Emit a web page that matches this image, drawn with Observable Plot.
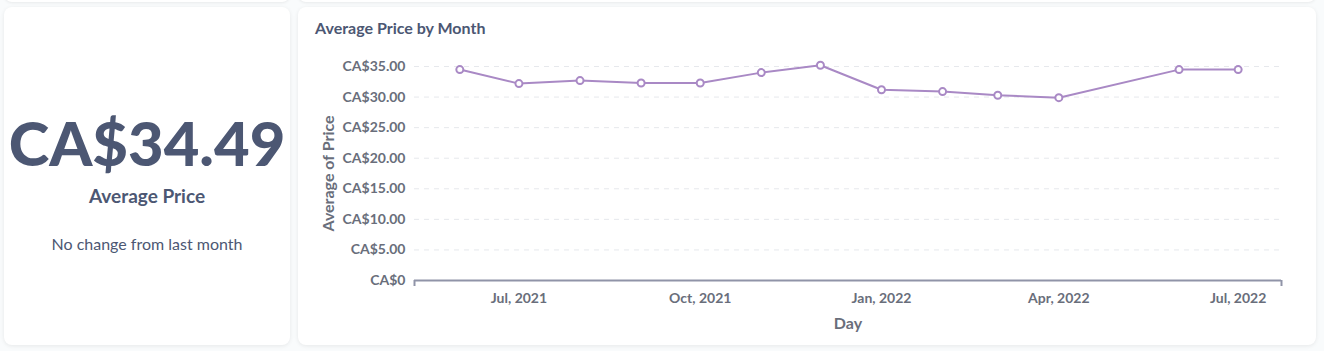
<!DOCTYPE html>
<html>
<head>
<meta charset="utf-8">
<script src="https://cdn.jsdelivr.net/npm/d3@7"></script>
<script src="https://cdn.jsdelivr.net/npm/@observablehq/plot@0.6"></script>
<style>
  html, body { margin: 0; padding: 0; }
  body { width: 1324px; height: 351px; background: #f9fbfc; font-family: Lato, "Noto Sans", sans-serif; position: relative; overflow: hidden; color: #4c5773; }
  .card { position: absolute; background: #fff; border-radius: 8px; box-shadow: 0 1px 4px rgba(0,0,0,0.08); }
  .ghost { position: absolute; background: #fff; border-radius: 8px; box-shadow: 0 1px 3px rgba(0,0,0,0.07); }
  #scalar { left: 4px; top: 7px; width: 286px; height: 338px; }
  #chartcard { left: 298px; top: 7px; width: 1018px; height: 338px; }
  .big { position: absolute; left: 0; width: 286px; top: 105px; text-align: center; font-size: 61.5px; font-weight: 900; line-height: 1; color: #4c5773; }
  .sub { position: absolute; left: 0; width: 286px; top: 177px; text-align: center; font-size: 19px; font-weight: 700; color: #4c5773; }
  .note { position: absolute; left: 0; width: 286px; top: 227px; text-align: center; font-size: 16px; font-weight: 400; color: #4c5773; }
  .title { position: absolute; left: 17px; top: 11px; font-size: 16px; font-weight: 700; color: #4c5773; }
  #plot { position: absolute; left: 0; top: 33px; }
</style>
</head>
<body>
<div class="ghost" style="left:4px; top:-20px; width:286px; height:22px;"></div>
<div class="ghost" style="left:298px; top:-20px; width:1018px; height:22px;"></div>
<div class="card" id="scalar">
  <div class="big" id="bigval"></div>
  <div class="sub">Average Price</div>
  <div class="note">No change from last month</div>
</div>
<div class="card" id="chartcard">
  <div class="title">Average Price by Month</div>
  <div id="plot"></div>
</div>
<script>
// Data
const months = ["2021-06","2021-07","2021-08","2021-09","2021-10","2021-11","2021-12","2022-01","2022-02","2022-03","2022-04","2022-06","2022-07"];
const avgPrice = [34.5, 32.2, 32.7, 32.3, 32.3, 34.0, 35.2, 31.2, 30.9, 30.3, 29.9, 34.49, 34.49];
const yTicks = [0, 5, 10, 15, 20, 25, 30, 35];
const xTickMonths = ["2021-07","2021-10","2022-01","2022-04","2022-07"];
const xDomain = ["2021-05-09","2022-07-23"];
const scalarValue = 34.49;

document.getElementById("bigval").textContent = "CA$" + scalarValue.toFixed(2);

const parse = d3.utcParse("%Y-%m");
const parseDay = d3.utcParse("%Y-%m-%d");
const data = months.map((m, i) => ({date: parse(m), value: avgPrice[i]}));
const xd = xDomain.map(parseDay);

const purple = "#a989c5";
const tickColor = "#696e7b";

const chart = Plot.plot({
  width: 1018,
  height: 305,
  marginLeft: 116,
  marginRight: 35,
  marginTop: 26,
  marginBottom: 65,
  style: {fontFamily: "Lato, sans-serif", fontSize: "14px", background: "transparent", overflow: "visible"},
  x: {type: "utc", domain: xd},
  y: {domain: [0, 35]},
  marks: [
    Plot.gridY(yTicks.filter(d => d > 0), {stroke: "#e6e8ec", strokeOpacity: 1, strokeDasharray: "5,5"}),
    Plot.axisY({ticks: yTicks, tickSize: 0, tickPadding: 9, fontWeight: 700, fill: tickColor,
      tickFormat: d => d === 0 ? "CA$0" : "CA$" + d.toFixed(2),
      label: "Average of Price", labelAnchor: "center", labelArrow: "none", labelOffset: 92}),
    Plot.axisX({ticks: xTickMonths.map(parse), tickSize: 0, tickPadding: 13, fontWeight: 700, fill: tickColor,
      tickFormat: d3.utcFormat("%b, %Y"),
      label: "Day", labelAnchor: "center", labelArrow: "none", labelOffset: 48}),
    Plot.ruleY([0], {stroke: "#9094a8", strokeWidth: 2}),
    Plot.ruleX(xd, {y1: 0, y2: 0, insetBottom: -6, stroke: "#9094a8", strokeWidth: 2}),
    Plot.line(data, {x: "date", y: "value", stroke: purple, strokeWidth: 2}),
    Plot.dot(data, {x: "date", y: "value", r: 3.5, fill: "#fff", stroke: purple, strokeWidth: 2})
  ]
});
chart.querySelectorAll("g[aria-label='y-axis label'], g[aria-label='x-axis label']").forEach(g => {
  g.setAttribute("font-size", "16px");
  g.setAttribute("fill", tickColor);
  g.setAttribute("font-weight", "700");
});
document.getElementById("plot").appendChild(chart);
</script>
</body>
</html>
